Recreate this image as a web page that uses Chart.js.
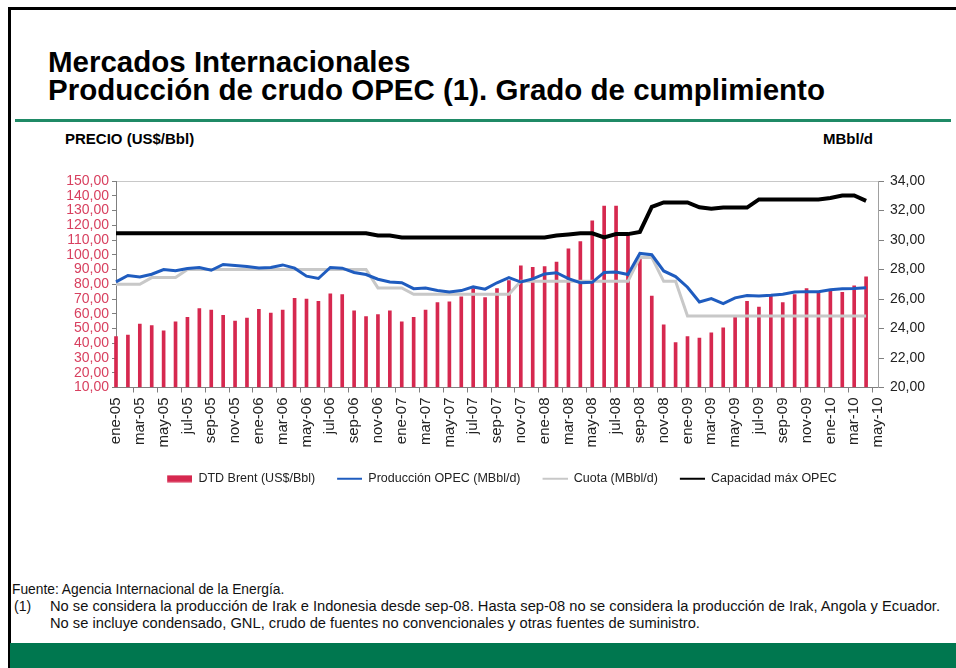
<!DOCTYPE html>
<html>
<head>
<meta charset="utf-8">
<script src="https://cdn.jsdelivr.net/npm/chart.js@4.4.1/dist/chart.umd.min.js"></script>
<style>
  html, body { margin: 0; padding: 0; background: #fff; }
  body { width: 956px; height: 668px; position: relative; overflow: hidden; font-family: 'Liberation Sans', Arial, sans-serif; color: #111; }
  .marco { position: absolute; left: 8px; top: 7px; right: -10px; bottom: -10px; border-left: 3px solid #000; border-top: 3px solid #000; }
  .titulo { position: absolute; left: 48px; top: 48px; font-size: 29.5px; line-height: 28px; font-weight: bold; color: #000; white-space: nowrap; }
  .linea { position: absolute; left: 15px; top: 119px; width: 936px; height: 3px; background: #1f8a66; }
  .eje { position: absolute; top: 130px; font-size: 15px; font-weight: bold; color: #000; }
  #wrap { position: absolute; left: 0; top: 150px; width: 956px; height: 350px; }
  .nota { position: absolute; font-size: 14.7px; line-height: 16px; color: #111; white-space: nowrap; }
  .pie { position: absolute; left: 10px; top: 643px; width: 946px; height: 25px; background: #00774f; }
</style>
</head>
<body>
<div class="marco"></div>
<div class="titulo">Mercados Internacionales<br>Producción de crudo OPEC (1). Grado de cumplimiento</div>
<div class="linea"></div>
<div class="eje" style="left:65px;">PRECIO (US$/Bbl)</div>
<div class="eje" style="right:83px;">MBbl/d</div>
<div id="wrap"><canvas id="grafico"></canvas></div>
<div class="nota" style="left:12px; top:582px; font-size:13.8px;">Fuente: Agencia Internacional de la Energía.</div>
<div class="nota" style="left:14px; top:598px; font-size:14px;">(1)</div>
<div class="nota" style="left:50px; top:598px;">No se considera la producción de Irak e Indonesia desde sep-08. Hasta sep-08 no se considera la producción de Irak, Angola y Ecuador.</div>
<div class="nota" style="left:50px; top:615px;">No se incluye condensado, GNL, crudo de fuentes no convencionales y otras fuentes de suministro.</div>
<div class="pie"></div>
<script>
const meses = [
  'ene-05','feb-05','mar-05','abr-05','may-05','jun-05','jul-05','ago-05','sep-05','oct-05','nov-05','dic-05',
  'ene-06','feb-06','mar-06','abr-06','may-06','jun-06','jul-06','ago-06','sep-06','oct-06','nov-06','dic-06',
  'ene-07','feb-07','mar-07','abr-07','may-07','jun-07','jul-07','ago-07','sep-07','oct-07','nov-07','dic-07',
  'ene-08','feb-08','mar-08','abr-08','may-08','jun-08','jul-08','ago-08','sep-08','oct-08','nov-08','dic-08',
  'ene-09','feb-09','mar-09','abr-09','may-09','jun-09','jul-09','ago-09','sep-09','oct-09','nov-09','dic-09',
  'ene-10','feb-10','mar-10','abr-10','may-10'
];

// DTD Brent, US$/Bbl (eje izquierdo)
const brent = [
  44.5, 45.5, 53, 52, 48.5, 54.5, 57.5, 63.5, 62.5, 59, 55, 57,
  63, 60.5, 62.5, 70.5, 70, 68.5, 73.5, 73, 62, 58, 59.5, 62,
  54.5, 57.5, 62.5, 67.5, 68, 71.5, 77, 71, 77, 82.5, 92.5, 91.5,
  92, 95, 104, 109, 123, 133, 133, 114, 97, 72, 52.5, 40.5,
  44.5, 43.5, 47, 50.5, 58, 68.5, 64.5, 72.5, 67.5, 73, 77, 74.5,
  76.5, 74.5, 79, 85
];

// MBbl/d (eje derecho)
const produccion = [
  27.16, 27.59, 27.5, 27.68, 28.0, 27.91, 28.07, 28.14, 27.95, 28.34, 28.27, 28.2,
  28.11, 28.14, 28.31, 28.09, 27.55, 27.39, 28.14, 28.09, 27.8, 27.66, 27.34, 27.16,
  27.1, 26.7, 26.74, 26.58, 26.48, 26.57, 26.82, 26.67, 27.1, 27.45, 27.15, 27.36,
  27.7, 27.78, 27.38, 27.1, 27.13, 27.8, 27.83, 27.66, 29.09, 29.0, 27.9, 27.52,
  26.8, 25.8, 26.03, 25.69, 26.08, 26.24, 26.2, 26.25, 26.32, 26.48, 26.5, 26.5,
  26.62, 26.69, 26.71, 26.77
];

const cuota = [
  27.0, 27.0, 27.0, 27.45, 27.45, 27.45, 28.0, 28.0, 28.0, 28.0, 28.0, 28.0,
  28.0, 28.0, 28.0, 28.0, 28.0, 28.0, 28.0, 28.0, 28.0, 28.0, 26.75, 26.75,
  26.75, 26.32, 26.32, 26.32, 26.32, 26.32, 26.32, 26.32, 26.32, 26.32, 27.2, 27.2,
  27.2, 27.2, 27.2, 27.2, 27.2, 27.2, 27.2, 27.2, 28.82, 28.82, 27.2, 27.2,
  24.84, 24.84, 24.84, 24.84, 24.84, 24.84, 24.84, 24.84, 24.84, 24.84, 24.84, 24.84,
  24.84, 24.84, 24.84, 24.84
];

const capacidad = [
  30.45, 30.45, 30.45, 30.45, 30.45, 30.45, 30.45, 30.45, 30.45, 30.45, 30.45, 30.45,
  30.45, 30.45, 30.45, 30.45, 30.45, 30.45, 30.45, 30.45, 30.45, 30.45, 30.3, 30.3,
  30.17, 30.17, 30.17, 30.17, 30.17, 30.17, 30.17, 30.17, 30.17, 30.17, 30.17, 30.17,
  30.17, 30.3, 30.38, 30.45, 30.45, 30.17, 30.4, 30.4, 30.55, 32.25, 32.55, 32.55,
  32.55, 32.22, 32.12, 32.2, 32.2, 32.2, 32.75, 32.75, 32.75, 32.75, 32.75, 32.75,
  32.85, 33.02, 33.02, 32.65
];

const ticksPrecio = { min: 10, max: 150, step: 10 };
const ticksMbbl = { min: 20, max: 34, step: 2 };

const rojo = '#d6284f';
const azul = '#1f5cbf';
const gris = '#c8c8c8';

// muestra de leyenda: hueco transparente a la izquierda + trazo de 25 px
function muestra(color, h) {
  const c = document.createElement('canvas');
  c.width = 37;
  c.height = 8;
  const g = c.getContext('2d');
  g.fillStyle = color;
  g.fillRect(12, (8 - h) / 2, 25, h);
  return c;
}
const muestras = [muestra(rojo, 7), muestra(azul, 2), muestra(gris, 2), muestra('#000', 2)];

const coma = v => v.toFixed(2).replace('.', ',');

Chart.defaults.font.family = "'Liberation Sans', Arial, sans-serif";
Chart.defaults.color = '#222';

new Chart(document.getElementById('grafico'), {
  data: {
    labels: meses,
    datasets: [
      {
        type: 'bar',
        label: 'DTD Brent (US$/Bbl)',
        data: brent,
        yAxisID: 'y',
        base: ticksPrecio.min,
        backgroundColor: rojo,
        barThickness: 3,
        clip: { left: 5, top: 0, right: 0, bottom: 0 },
        order: 4
      },
      {
        type: 'line',
        label: 'Producción OPEC (MBbl/d)',
        data: produccion,
        yAxisID: 'y2',
        borderColor: azul,
        borderWidth: 3,
        pointRadius: 0,
        tension: 0,
        order: 2
      },
      {
        type: 'line',
        label: 'Cuota (MBbl/d)',
        data: cuota,
        yAxisID: 'y2',
        borderColor: gris,
        borderWidth: 3,
        pointRadius: 0,
        tension: 0,
        order: 3
      },
      {
        type: 'line',
        label: 'Capacidad máx OPEC',
        data: capacidad,
        yAxisID: 'y2',
        borderColor: '#000',
        borderWidth: 4,
        pointRadius: 0,
        tension: 0,
        order: 1
      }
    ]
  },
  options: {
    responsive: true,
    maintainAspectRatio: false,
    animation: false,
    layout: {
      padding: { top: 31, left: 36, right: 0, bottom: 5 }
    },
    plugins: {
      tooltip: { enabled: false },
      legend: {
        position: 'bottom',
        labels: {
          usePointStyle: true,
          pointStyleWidth: 37,
          padding: 10,
          font: { size: 12.5 },
          color: '#222',
          generateLabels: chart => chart.data.datasets.map((ds, i) => ({
            text: ds.label,
            pointStyle: muestras[i],
            datasetIndex: i,
            hidden: !chart.isDatasetVisible(i),
            fillStyle: 'transparent',
            strokeStyle: 'transparent',
            lineWidth: 0,
            fontColor: '#222'
          }))
        }
      }
    },
    scales: {
      x: {
        offset: false,
        afterFit: s => { s.height = 75; },
        border: { display: true, color: '#7f7f7f' },
        grid: {
          drawOnChartArea: false,
          tickLength: 5,
          color: c => (c.index % 2 === 0 ? '#7f7f7f' : 'transparent')
        },
        ticks: {
          autoSkip: false,
          minRotation: 90,
          maxRotation: 90,
          padding: 5,
          color: '#222',
          font: { size: 15 },
          callback: (v, i) => (i % 2 === 0 ? meses[i] : '')
        }
      },
      y: {
        position: 'left',
        min: ticksPrecio.min,
        max: ticksPrecio.max,
        afterFit: s => { s.width = 80; },
        border: { display: true, color: '#7f7f7f' },
        grid: { drawOnChartArea: false, tickLength: 4, color: '#7f7f7f' },
        ticks: {
          autoSkip: false,
          stepSize: ticksPrecio.step,
          padding: 3,
          color: '#d8405f',
          font: { size: 14 },
          callback: v => coma(v)
        }
      },
      y2: {
        position: 'right',
        min: ticksMbbl.min,
        max: ticksMbbl.max,
        afterFit: s => { s.width = 78; },
        border: { display: true, color: '#a0a0a0' },
        grid: {
          drawOnChartArea: true,
          tickLength: 6,
          tickColor: '#7f7f7f',
          color: c => (c.tick && c.tick.value === ticksMbbl.max ? '#c8c8c8' : 'transparent')
        },
        ticks: {
          autoSkip: false,
          stepSize: ticksMbbl.step,
          padding: 6,
          color: '#222',
          font: { size: 14 },
          callback: v => coma(v)
        }
      }
    }
  }
});
</script>
</body>
</html>
